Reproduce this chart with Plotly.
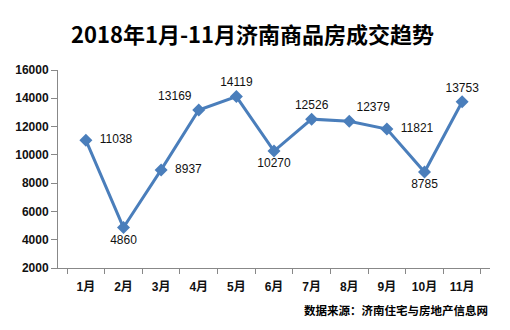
import plotly.graph_objects as go

months = ["1月", "2月", "3月", "4月", "5月", "6月", "7月", "8月", "9月", "10月", "11月"]
values = [11038, 4860, 8937, 13169, 14119, 10270, 12526, 12379, 11821, 8785, 13753]
label_pos = ["middle right", "bottom center", "middle right", "top left", "top center",
             "bottom center", "top center", "top right", "middle right", "bottom center", "top center"]
y_ticks = [2000, 4000, 6000, 8000, 10000, 12000, 14000, 16000]

labels = [f"  {v}" if p == "middle right" else str(v) for v, p in zip(values, label_pos)]

fig = go.Figure()
fig.add_trace(go.Scatter(
    x=months, y=values, mode="lines+markers+text",
    line=dict(color="#4a7ebb", width=3),
    marker=dict(symbol="diamond", size=10, color="#4a7ebb"),
    text=labels, textposition=label_pos,
    textfont=dict(family="Liberation Sans, Arial", size=12, color="#111"),
    cliponaxis=False, showlegend=False,
))

fig.add_annotation(xref="paper", yref="paper", x=0.45, y=1, yshift=37,
                   xanchor="center", yanchor="middle",
                   text="<b>2018年1月-11月济南商品房成交趋势</b>", showarrow=False,
                   font=dict(family="Noto Sans CJK SC", size=22, color="#000"))
fig.add_annotation(xref="paper", yref="paper", x=1, y=0, yshift=-42, xanchor="right",
                   yanchor="middle", text="<b>数据来源：济南住宅与房地产信息网</b>", showarrow=False,
                   font=dict(family="Noto Sans CJK SC", size=11.5, color="#000"))

fig.update_layout(
    width=510, height=330, margin=dict(l=58, r=20, t=70, b=62),
    paper_bgcolor="white", plot_bgcolor="white",
    xaxis=dict(type="category", tickson="boundaries", ticks="outside", ticklen=5,
               tickcolor="#888", showline=True, linecolor="#888", showgrid=False,
               ticklabelstandoff=8, automargin=False,
               tickfont=dict(family="Liberation Sans, Noto Sans CJK SC", size=12, color="#111",
                             weight="bold")),
    yaxis=dict(range=[2000, 16000], tickvals=y_ticks, ticks="outside", ticklen=6,
               tickcolor="#888", showline=True, linecolor="#888", showgrid=False,
               zeroline=False, automargin=False,
               tickfont=dict(family="Liberation Sans", size=12, color="#111", weight="bold"),
               tickformat="d"),
)
fig.write_html("out.html")
